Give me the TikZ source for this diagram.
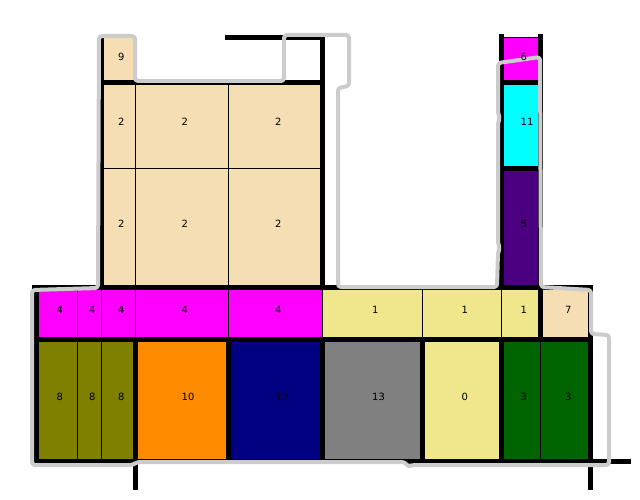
\documentclass[tikz,border=0pt]{standalone}
\usepackage{fontspec}
\setmainfont{DejaVu Sans}
\definecolor{wheatc}{RGB}{245,222,179}
\definecolor{magentac}{RGB}{255,0,255}
\definecolor{khakic}{RGB}{240,230,140}
\definecolor{olivec}{RGB}{128,128,0}
\definecolor{orangec}{RGB}{255,140,0}
\definecolor{navyc}{RGB}{0,0,128}
\definecolor{grayc}{RGB}{128,128,128}
\definecolor{greenc}{RGB}{0,100,0}
\definecolor{cyanc}{RGB}{0,255,255}
\definecolor{indigoc}{RGB}{75,0,130}
\definecolor{routegrey}{RGB}{204,204,204}
\newcommand\mycell[7]{%
  \filldraw[cellbox, fill=#5] (#1,#2) rectangle (#3,#4);
  \coordinate (#7) at ({(#1+#3)/2},{(#2+#4)/2});}
\newcommand\mylabel[2]{\node[lab] (l#1) at (#1) {#2};}
\begin{document}
\begin{tikzpicture}[x=1bp,y=-1bp,
  cellbox/.style={draw=black, line width=1bp},
  wall/.style={draw=black, line width=5bp, line cap=rect},
  lab/.style={anchor=base west, inner sep=0pt, font=\fontsize{10}{12}\selectfont},
  route/.style={draw=routegrey, line width=4bp, rounded corners=3bp, line join=round}]
\useasboundingbox (0,0) rectangle (640,500);
% upper block
\mycell{101}{38}{135}{83}{wheatc}{9}{t9}
\mycell{101}{83}{135}{169}{wheatc}{2}{ta}
\mycell{135}{83}{228}{169}{wheatc}{2}{tb}
\mycell{228}{83}{322}{169}{wheatc}{2}{tc}
\mycell{101}{169}{135}{287}{wheatc}{2}{td}
\mycell{135}{169}{228}{287}{wheatc}{2}{te}
\mycell{228}{169}{322}{287}{wheatc}{2}{tf}
% right column
\mycell{501}{38}{540}{83}{magentac}{6}{r6}
\mycell{501}{83}{540}{169}{cyanc}{11}{r11}
\mycell{501}{169}{540}{287}{indigoc}{5}{r5}
% middle row
\mycell{36}{287}{77}{339}{magentac}{4}{ma}
\mycell{77}{287}{101}{339}{magentac}{4}{mb}
\mycell{101}{287}{135}{339}{magentac}{4}{mc}
\mycell{135}{287}{228}{339}{magentac}{4}{md}
\mycell{228}{287}{322}{339}{magentac}{4}{me}
\mycell{322}{287}{422}{339}{khakic}{1}{mf}
\mycell{422}{287}{501}{339}{khakic}{1}{mg}
\mycell{501}{287}{540}{339}{khakic}{1}{mh}
\mycell{540}{287}{590}{339}{wheatc}{7}{mi}
% bottom row
\mycell{36}{339}{77}{461}{olivec}{8}{ba}
\mycell{77}{339}{101}{461}{olivec}{8}{bb}
\mycell{101}{339}{135}{461}{olivec}{8}{bc}
\mycell{135}{339}{228}{461}{orangec}{10}{bd}
\mycell{228}{339}{322}{461}{navyc}{12}{be}
\mycell{322}{339}{422}{461}{grayc}{13}{bf}
\mycell{422}{339}{501}{461}{khakic}{0}{bg}
\mycell{501}{339}{540}{461}{greenc}{3}{bh}
\mycell{540}{339}{590}{461}{greenc}{3}{bi}
% walls
\draw[wall] (101,38) -- (101,287);
\draw[wall] (101,83) -- (322,83);
\draw[wall] (227,38) -- (322,38) -- (322,287);
\draw[wall] (34,287) -- (590,287);
\draw[wall] (36,287) -- (36,461);
\draw[wall] (36,339) -- (590,339);
\draw[wall] (36,461) -- (628,461);
\draw[wall] (135,339) -- (135,487);
\draw[wall] (228,339) -- (228,461);
\draw[wall] (322,339) -- (322,461);
\draw[wall] (422,339) -- (422,461);
\draw[wall] (501,339) -- (501,461);
\draw[wall] (590,287) -- (590,487);
\draw[wall] (501,37) -- (501,287);
\draw[wall] (540,37) -- (540,339);
\draw[wall] (501,83) -- (540,83);
\draw[wall] (501,169) -- (540,169);
% route outline
\draw[route] (99,36) -- (135,36) -- (135,81) -- (284,81) -- (284,35) -- (349,35)
  -- (349,86) -- (338,88) -- (338,287) -- (497,287) -- (498,252) -- (500,248)
  -- (498,244) -- (498,122) -- (500,118) -- (498,114) -- (498,63) -- (540,57)
  -- (541,287) -- (591,290) -- (591,334) -- (609,335) -- (609,465) -- (412,465)
  -- (408,467) -- (405,462) -- (137,462) -- (133,465) -- (32,465) -- (32,290)
  -- (98,288) -- cycle;
% labels
\mylabel{t9}{9}\mylabel{ta}{2}\mylabel{tb}{2}\mylabel{tc}{2}
\mylabel{td}{2}\mylabel{te}{2}\mylabel{tf}{2}
\mylabel{r6}{6}\mylabel{r11}{11}\mylabel{r5}{5}
\mylabel{ma}{4}\mylabel{mb}{4}\mylabel{mc}{4}\mylabel{md}{4}\mylabel{me}{4}
\mylabel{mf}{1}\mylabel{mg}{1}\mylabel{mh}{1}\mylabel{mi}{7}
\mylabel{ba}{8}\mylabel{bb}{8}\mylabel{bc}{8}\mylabel{bd}{10}\mylabel{be}{12}
\mylabel{bf}{13}\mylabel{bg}{0}\mylabel{bh}{3}\mylabel{bi}{3}
\end{tikzpicture}
\end{document}
